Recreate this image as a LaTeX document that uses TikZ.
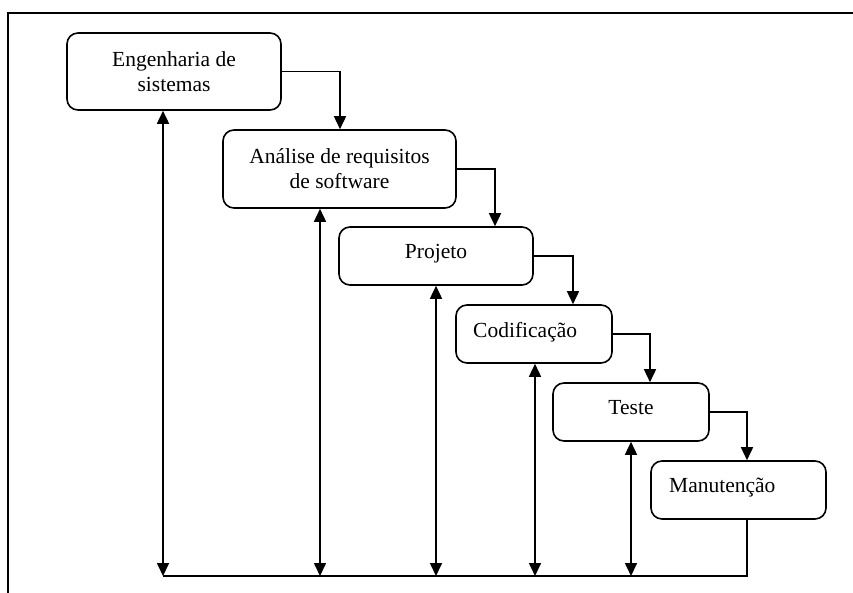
\documentclass[tikz,border=0pt]{standalone}
\usepackage{fontspec}
\setmainfont{Liberation Serif}
\usetikzlibrary{arrows.meta}
\begin{document}
\begin{tikzpicture}[x=1pt,y=-1pt,
  box/.style={draw, rounded corners=11pt, line width=1.6pt, inner sep=0pt},
  lbl/.style={inner sep=0pt, font=\fontsize{21.5}{24.8}\selectfont},
  conn/.style={line width=1.6pt},
  arr/.style={conn, -{Triangle[length=13pt,width=12pt]}},
  darr/.style={conn, {Triangle[length=13pt,width=12pt]}-{Triangle[length=13pt,width=12pt]}}]
  \useasboundingbox (0,0) rectangle (853,592);
  % outer frame
  \draw[line width=1.8pt] (8,594) -- (8,13) -- (855,13);

  % phase boxes
  \node[box, minimum width=214pt, minimum height=77pt] (p1) at (174,71.5) {};
  \node[box, minimum width=233pt, minimum height=78pt] (p2) at (339.5,169) {};
  \node[box, minimum width=194pt, minimum height=58pt] (p3) at (436,256) {};
  \node[box, minimum width=156pt, minimum height=58pt] (p4) at (534,334) {};
  \node[box, minimum width=156pt, minimum height=58pt] (p5) at (631,412) {};
  \node[box, minimum width=175pt, minimum height=58pt] (p6) at (738.5,490) {};

  % labels
  \node[lbl, align=center] (t1) at (p1.center) {Engenharia de\\sistemas};
  \node[lbl, align=center] (t2) at (p2.center) {Análise de requisitos\\de software};
  \node[lbl, anchor=base] (t3) at (436,258.5) {Projeto};
  \node[lbl, anchor=base west] (t4) at (473,337) {Codificação};
  \node[lbl, anchor=base] (t5) at (631,414) {Teste};
  \node[lbl, anchor=base west] (t6) at (669,492) {Manutenção};

  % drop points of the forward arrows
  \coordinate (k12) at (340,0);
  \coordinate (k23) at (495,0);
  \coordinate (k34) at (573,0);
  \coordinate (k45) at (650,0);
  \coordinate (k56) at (747,0);

  % feedback columns and the common return line
  \coordinate (u1) at (163,0);
  \coordinate (u2) at (320,0);
  \coordinate (u3) at (436,0);
  \coordinate (u4) at (535,0);
  \coordinate (u5) at (631,0);
  \coordinate (base) at (0,576);

  % forward flow
  \draw[arr] (p1.east) -| (p2.north -| k12);
  \draw[arr] (p2.east) -| (p3.north -| k23);
  \draw[arr] (p3.east) -| (p4.north -| k34);
  \draw[arr] (p4.east) -| (p5.north -| k45);
  \draw[arr] (p5.east) -| (p6.north -| k56);

  % return line
  \draw[conn] (p6.south -| k56) |- (base -| u1);

  % feedback arrows
  \draw[darr] (p1.south -| u1) -- (base -| u1);
  \draw[darr] (p2.south -| u2) -- (base -| u2);
  \draw[darr] (p3.south -| u3) -- (base -| u3);
  \draw[darr] (p4.south -| u4) -- (base -| u4);
  \draw[darr] (p5.south -| u5) -- (base -| u5);
\end{tikzpicture}
\end{document}
